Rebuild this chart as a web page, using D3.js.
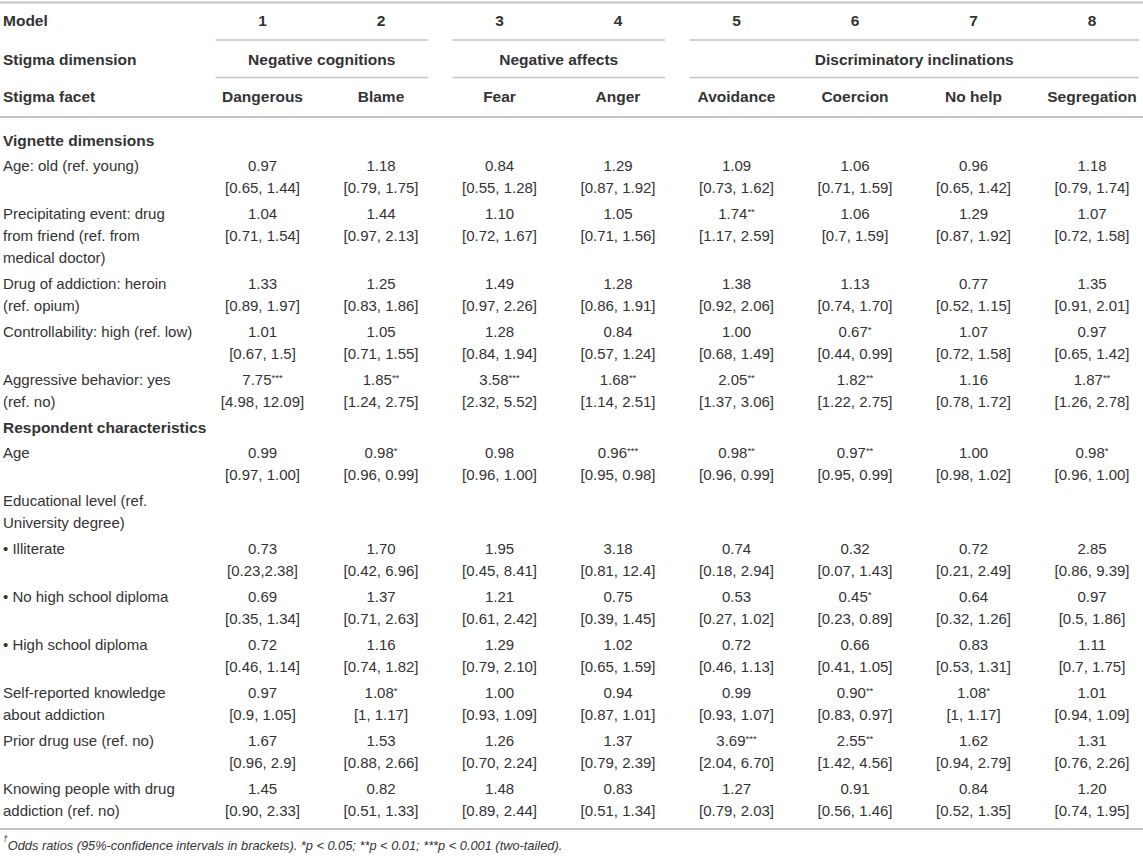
<!DOCTYPE html>
<html>
<head>
<meta charset="utf-8">
<script src="https://cdn.jsdelivr.net/npm/d3@7"></script>
<style>
  body { margin: 0; background: #fff; }
  svg text { font-family: "Liberation Sans", Arial, sans-serif; fill: #333; }
</style>
</head>
<body>
<div id="chart"></div>
<script>
// column headers
const models = [1, 2, 3, 4, 5, 6, 7, 8]
const dimensions = ["Negative cognitions", "Negative cognitions", "Negative affects", "Negative affects",
  "Discriminatory inclinations", "Discriminatory inclinations", "Discriminatory inclinations", "Discriminatory inclinations"]
const facets = ["Dangerous", "Blame", "Fear", "Anger", "Avoidance", "Coercion", "No help", "Segregation"]

// row labels (as printed, one entry per line)
const rowLabels = [
  ["Vignette dimensions"],
  ["Age: old (ref. young)"],
  ["Precipitating event: drug", "from friend (ref. from", "medical doctor)"],
  ["Drug of addiction: heroin", "(ref. opium)"],
  ["Controllability: high (ref. low)"],
  ["Aggressive behavior: yes", "(ref. no)"],
  ["Respondent characteristics"],
  ["Age"],
  ["Educational level (ref.", "University degree)"],
  ["• Illiterate"],
  ["• No high school diploma"],
  ["• High school diploma"],
  ["Self-reported knowledge", "about addiction"],
  ["Prior drug use (ref. no)"],
  ["Knowing people with drug", "addiction (ref. no)"]
]
const sectionRows = ["Vignette dimensions", "Respondent characteristics"]

// odds ratios (stars = significance) and 95% CIs, per row, models 1..8
const oddsRatios = [
  null,
  ["0.97", "1.18", "0.84", "1.29", "1.09", "1.06", "0.96", "1.18"],
  ["1.04", "1.44", "1.10", "1.05", "1.74**", "1.06", "1.29", "1.07"],
  ["1.33", "1.25", "1.49", "1.28", "1.38", "1.13", "0.77", "1.35"],
  ["1.01", "1.05", "1.28", "0.84", "1.00", "0.67*", "1.07", "0.97"],
  ["7.75***", "1.85**", "3.58***", "1.68**", "2.05**", "1.82**", "1.16", "1.87**"],
  null,
  ["0.99", "0.98*", "0.98", "0.96***", "0.98**", "0.97**", "1.00", "0.98*"],
  null,
  ["0.73", "1.70", "1.95", "3.18", "0.74", "0.32", "0.72", "2.85"],
  ["0.69", "1.37", "1.21", "0.75", "0.53", "0.45*", "0.64", "0.97"],
  ["0.72", "1.16", "1.29", "1.02", "0.72", "0.66", "0.83", "1.11"],
  ["0.97", "1.08*", "1.00", "0.94", "0.99", "0.90**", "1.08*", "1.01"],
  ["1.67", "1.53", "1.26", "1.37", "3.69***", "2.55**", "1.62", "1.31"],
  ["1.45", "0.82", "1.48", "0.83", "1.27", "0.91", "0.84", "1.20"]
]
const confInts = [
  null,
  ["[0.65, 1.44]", "[0.79, 1.75]", "[0.55, 1.28]", "[0.87, 1.92]", "[0.73, 1.62]", "[0.71, 1.59]", "[0.65, 1.42]", "[0.79, 1.74]"],
  ["[0.71, 1.54]", "[0.97, 2.13]", "[0.72, 1.67]", "[0.71, 1.56]", "[1.17, 2.59]", "[0.7, 1.59]", "[0.87, 1.92]", "[0.72, 1.58]"],
  ["[0.89, 1.97]", "[0.83, 1.86]", "[0.97, 2.26]", "[0.86, 1.91]", "[0.92, 2.06]", "[0.74, 1.70]", "[0.52, 1.15]", "[0.91, 2.01]"],
  ["[0.67, 1.5]", "[0.71, 1.55]", "[0.84, 1.94]", "[0.57, 1.24]", "[0.68, 1.49]", "[0.44, 0.99]", "[0.72, 1.58]", "[0.65, 1.42]"],
  ["[4.98, 12.09]", "[1.24, 2.75]", "[2.32, 5.52]", "[1.14, 2.51]", "[1.37, 3.06]", "[1.22, 2.75]", "[0.78, 1.72]", "[1.26, 2.78]"],
  null,
  ["[0.97, 1.00]", "[0.96, 0.99]", "[0.96, 1.00]", "[0.95, 0.98]", "[0.96, 0.99]", "[0.95, 0.99]", "[0.98, 1.02]", "[0.96, 1.00]"],
  null,
  ["[0.23,2.38]", "[0.42, 6.96]", "[0.45, 8.41]", "[0.81, 12.4]", "[0.18, 2.94]", "[0.07, 1.43]", "[0.21, 2.49]", "[0.86, 9.39]"],
  ["[0.35, 1.34]", "[0.71, 2.63]", "[0.61, 2.42]", "[0.39, 1.45]", "[0.27, 1.02]", "[0.23, 0.89]", "[0.32, 1.26]", "[0.5, 1.86]"],
  ["[0.46, 1.14]", "[0.74, 1.82]", "[0.79, 2.10]", "[0.65, 1.59]", "[0.46, 1.13]", "[0.41, 1.05]", "[0.53, 1.31]", "[0.7, 1.75]"],
  ["[0.9, 1.05]", "[1, 1.17]", "[0.93, 1.09]", "[0.87, 1.01]", "[0.93, 1.07]", "[0.83, 0.97]", "[1, 1.17]", "[0.94, 1.09]"],
  ["[0.96, 2.9]", "[0.88, 2.66]", "[0.70, 2.24]", "[0.79, 2.39]", "[2.04, 6.70]", "[1.42, 4.56]", "[0.94, 2.79]", "[0.76, 2.26]"],
  ["[0.90, 2.33]", "[0.51, 1.33]", "[0.89, 2.44]", "[0.51, 1.34]", "[0.79, 2.03]", "[0.56, 1.46]", "[0.52, 1.35]", "[0.74, 1.95]"]
]
const footnote = "Odds ratios (95%-confidence intervals in brackets). *p < 0.05; **p < 0.01; ***p < 0.001 (two-tailed)."

const width = 1143
const height = 859
const fontSize = 15
const boldSize = 15.5
const lineH = 22
const pad = 4
const ruleColor = "#c4c4c4"
const labelX = 3

const x = d3.scalePoint().domain(models).range([262.5, 1092])
const half = 47 // group underline reaches this far past the outer column centres

const svg = d3.select("#chart")
  .append("svg")
  .attr("width", width)
  .attr("height", height)

function rule(x1, x2, y, w) {
  svg.append("line")
    .attr("x1", x1).attr("x2", x2)
    .attr("y1", y).attr("y2", y)
    .attr("stroke", ruleColor)
    .attr("stroke-width", w || 1.5)
}

// header rows
const headerY = [21, 59.5, 97]
rule(0, width, 2.5, 2)
rule(0, width, 117, 2)

svg.append("g").selectAll("text")
  .data(["Model", "Stigma dimension", "Stigma facet"])
  .join("text")
  .attr("x", labelX)
  .attr("y", (d, i) => headerY[i])
  .attr("dy", "0.35em")
  .attr("font-size", boldSize)
  .attr("font-weight", "bold")
  .text(d => d)

svg.append("g").selectAll("text")
  .data(models)
  .join("text")
  .attr("x", d => x(d))
  .attr("y", headerY[0])
  .attr("dy", "0.35em")
  .attr("text-anchor", "middle")
  .attr("font-size", boldSize)
  .attr("font-weight", "bold")
  .text(d => d)

svg.append("g").selectAll("text")
  .data(facets)
  .join("text")
  .attr("x", (d, i) => x(models[i]))
  .attr("y", headerY[2])
  .attr("dy", "0.35em")
  .attr("text-anchor", "middle")
  .attr("font-size", boldSize)
  .attr("font-weight", "bold")
  .text(d => d)

// dimensions spanning several models
const groups = d3.groups(models, (m, i) => dimensions[i])
  .map(([name, ms]) => ({ name, first: d3.min(ms), last: d3.max(ms) }))

groups.forEach(g => {
  const x1 = x(g.first) - half
  const x2 = Math.min(width, x(g.last) + half)
  rule(x1, x2, 40)
  rule(x1, x2, 77.5)
  svg.append("text")
    .attr("x", (x(g.first) + x(g.last)) / 2)
    .attr("y", headerY[1])
    .attr("dy", "0.35em")
    .attr("text-anchor", "middle")
    .attr("font-size", boldSize)
    .attr("font-weight", "bold")
    .text(g.name)
})

// body rows
let cursor = 128
const rows = rowLabels.map((label, i) => {
  const section = sectionRows.includes(label[0])
  const n = Math.max(label.length, oddsRatios[i] ? 2 : 1)
  const top = cursor
  cursor += section ? lineH + 3 : n * lineH + pad
  return { label, section, or: oddsRatios[i], ci: confInts[i], y0: top + pad / 2 + lineH / 2 }
})

const rowG = svg.append("g").selectAll("g.row")
  .data(rows)
  .join("g")
  .attr("class", "row")

rowG.selectAll("text.label")
  .data(r => r.label.map((t, k) => ({ t, y: r.y0 + k * lineH, bold: r.section })))
  .join("text")
  .attr("class", "label")
  .attr("x", labelX)
  .attr("y", d => d.y)
  .attr("dy", "0.35em")
  .attr("font-size", d => d.bold ? boldSize : fontSize)
  .attr("font-weight", d => d.bold ? "bold" : "normal")
  .text(d => d.t)

const cells = rowG.selectAll("g.cell")
  .data(r => r.or ? models.map((m, j) => ({ m, or: r.or[j], ci: r.ci[j], y: r.y0 })) : [])
  .join("g")
  .attr("class", "cell")

// odds ratio, significance stars as a superscript
cells.append("text")
  .attr("x", d => x(d.m))
  .attr("y", d => d.y)
  .attr("dy", "0.35em")
  .attr("text-anchor", "middle")
  .attr("font-size", fontSize)
  .each(function(d) {
    const num = d.or.replace(/\*+$/, "")
    const stars = d.or.slice(num.length)
    const t = d3.select(this)
    t.append("tspan").text(num)
    if (stars) {
      t.append("tspan")
        .attr("font-size", 9.5)
        .attr("dy", "-0.5em")
        .text(stars)
    }
  })

cells.append("text")
  .attr("x", d => x(d.m))
  .attr("y", d => d.y + lineH)
  .attr("dy", "0.35em")
  .attr("text-anchor", "middle")
  .attr("font-size", fontSize)
  .text(d => d.ci)

// bottom rule and footnote
rule(0, width, cursor + 5, 2)

const fn = svg.append("text")
  .attr("x", labelX)
  .attr("y", cursor + 23)
  .attr("dy", "0.35em")
  .attr("font-size", 12.8)
  .attr("font-style", "italic")
fn.append("tspan").attr("font-size", 8.5).attr("dy", "-0.6em").text("†")
fn.append("tspan").attr("dy", "0.6em").text(footnote)
</script>
</body>
</html>
